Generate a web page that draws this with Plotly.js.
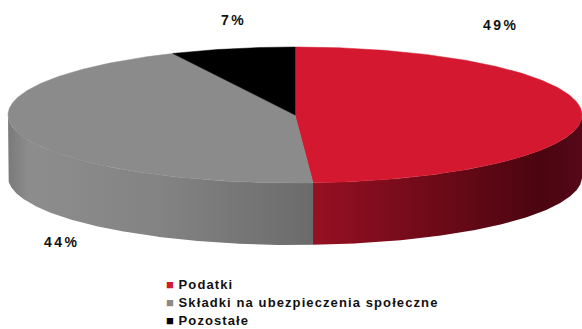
<!DOCTYPE html>
<html>
<head>
<meta charset="utf-8">
<script src="https://cdn.plot.ly/plotly-3.0.1.min.js"></script>
<style>html,body{margin:0;padding:0;background:#fff;}#chart{width:582px;height:329px;}</style>
</head>
<body>
<div id="chart"></div>
<script>
// ---- data ----
const categories = ['Podatki', 'Składki na ubezpieczenia społeczne', 'Pozostałe'];
const values = [49, 44, 7];
const topColors = ['#d3182f', '#8b8b8b', '#000000'];
const sideScales = [
  [[0, '#961022'], [0.85, '#4a0510'], [1, '#560818']],
  [[0, '#7a7a7a'], [0.07, '#8d8d8d'], [0.5, '#838383'], [1, '#6b6b6b']],
  [[0, '#111111'], [1, '#000000']]
];

// ---- layout geometry (pixels) ----
const W = 582, H = 329;
const CX = 295, CY = 115, RX = 287, RY = 68, DEPTH = 62;
const labelPos = [[501, 25], [62, 242], [233, 20]];
const legendX = 164, legendY = [284, 302, 320];

function pt(deg, dy) {
  const r = deg * Math.PI / 180;
  return [CX + RX * Math.sin(r), CY - RY * Math.cos(r) + (dy || 0)];
}
function arc(a1, a2, dy) {
  const xs = [], ys = [];
  const n = Math.max(2, Math.ceil(Math.abs(a2 - a1) * 2));
  for (let k = 0; k <= n; k++) {
    const p = pt(a1 + (a2 - a1) * k / n, dy);
    xs.push(p[0]); ys.push(p[1]);
  }
  return [xs, ys];
}

const total = values.reduce((a, b) => a + b, 0);
const slices = [];
let acc = 0;
values.forEach((v, i) => {
  const a1 = acc / total * 360;
  acc += v;
  const a2 = acc / total * 360;
  slices.push([a1, a2]);
});

const traces = [];
// side faces (front half only: 90..270 deg)
slices.forEach(([a1, a2], i) => {
  const s1 = Math.max(a1, 90), s2 = Math.min(a2, 270);
  if (s1 >= s2) return;
  const top = arc(s1, s2, 0);
  const bot = arc(s2, s1, DEPTH);
  traces.push({
    type: 'scatter', mode: 'lines', fill: 'toself',
    x: top[0].concat(bot[0]), y: top[1].concat(bot[1]),
    line: {width: 0, color: topColors[i]},
    fillcolor: topColors[i],
    fillgradient: {type: 'horizontal', colorscale: sideScales[i]},
    hoverinfo: 'skip', showlegend: false
  });
});
// top faces
slices.forEach(([a1, a2], i) => {
  const a = arc(a1, a2, 0);
  traces.push({
    type: 'scatter', mode: 'lines', fill: 'toself',
    x: [CX].concat(a[0]).concat([CX]), y: [CY].concat(a[1]).concat([CY]),
    line: {width: 0.5, color: topColors[i]},
    fillcolor: topColors[i],
    name: categories[i],
    hoverinfo: 'name', showlegend: false
  });
});

const annotations = [];
values.forEach((v, i) => {
  annotations.push({
    x: labelPos[i][0], y: labelPos[i][1], xref: 'x', yref: 'y',
    text: '<span style="letter-spacing:2.5px">' + Math.round(v / total * 100) + '%</span>',
    showarrow: false, xanchor: 'center', yanchor: 'middle',
    font: {family: 'Liberation Sans, Arial', size: 14, color: '#111', weight: 'bold'}
  });
});
categories.forEach((c, i) => {
  annotations.push({
    x: legendX, y: legendY[i], xref: 'x', yref: 'y',
    text: '<span style="font-size:13px;color:' + topColors[i] + '">■</span><span style="letter-spacing:1.1px"> ' + c + '</span>',
    showarrow: false, xanchor: 'left', yanchor: 'middle',
    font: {family: 'Liberation Sans, Arial', size: 13, color: '#111', weight: 'bold'}
  });
});

Plotly.newPlot('chart', traces, {
  width: W, height: H,
  margin: {l: 0, r: 0, t: 0, b: 0},
  paper_bgcolor: '#fff', plot_bgcolor: '#fff',
  xaxis: {range: [0, W], visible: false, fixedrange: true},
  yaxis: {range: [H, 0], visible: false, fixedrange: true},
  showlegend: false,
  annotations: annotations
}, {displayModeBar: false, staticPlot: true});
</script>
</body>
</html>
